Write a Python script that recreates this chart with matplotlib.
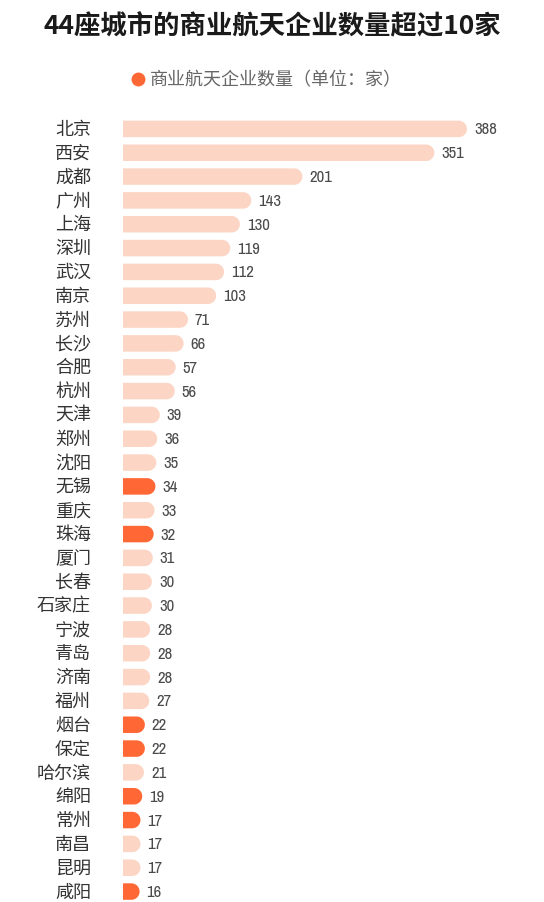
import matplotlib
matplotlib.use("Agg")
import numpy as np
import matplotlib.pyplot as plt
from matplotlib.lines import Line2D
from matplotlib.patches import Polygon
from matplotlib import font_manager

plt.rcParams['font.family'] = ['Noto Sans CJK SC', 'DejaVu Sans']

cities = ["北京", "西安", "成都", "广州", "上海", "深圳", "武汉", "南京", "苏州", "长沙",
          "合肥", "杭州", "天津", "郑州", "沈阳", "无锡", "重庆", "珠海", "厦门", "长春",
          "石家庄", "宁波", "青岛", "济南", "福州", "烟台", "保定", "哈尔滨", "绵阳", "常州",
          "南昌", "昆明", "咸阳"]
values = [388, 351, 201, 143, 130, 119, 112, 103, 71, 66,
          57, 56, 39, 36, 35, 34, 33, 32, 31, 30,
          30, 28, 28, 28, 27, 22, 22, 21, 19, 17,
          17, 17, 16]
highlight = ["无锡", "珠海", "烟台", "保定", "绵阳", "常州", "咸阳"]

title = "44座城市的商业航天企业数量超过10家"
legend_label = "商业航天企业数量（单位：家）"

LIGHT = "#FCD5C4"
ORANGE = "#FF6835"

# pick a narrow font for the numbers if one is installed
names = {f.name for f in font_manager.fontManager.ttflist}
num_kw = {}
narrow = [n for n in names if "Narrow" in n or "Condensed" in n]
if "Liberation Sans Narrow" in names:
    num_kw = dict(family=["Liberation Sans Narrow", "DejaVu Sans"])
elif narrow:
    num_kw = dict(family=[sorted(narrow)[0], "DejaVu Sans"])
else:
    num_kw = dict(family=["DejaVu Sans"], fontstretch="condensed")

W, H, DPI = 544, 903, 100
fig = plt.figure(figsize=(W / DPI, H / DPI), dpi=DPI)
fig.patch.set_facecolor("white")

ax_left, ax_right = 123, 520
ax_top, ax_bottom = 118, 903
ax = fig.add_axes([ax_left / W, 1 - ax_bottom / H, (ax_right - ax_left) / W, (ax_bottom - ax_top) / H])
px_per_unit = 0.88
x0 = -2.5 / px_per_unit
ax.set_xlim(x0, x0 + (ax_right - ax_left) / px_per_unit)
row = 23.83
ax.set_ylim((ax_bottom - 130) / row, -0.5)
ax.axis("off")

bar_px = 16.5
bar_h = bar_px / row
r_units = (bar_px / 2) / px_per_unit
t = np.linspace(0, np.pi, 40)

for i, (c, v) in enumerate(zip(cities, values)):
    col = ORANGE if c in highlight else LIGHT
    body = max(v - r_units, x0)
    xs = [x0, body] + list(body + r_units * np.sin(t)) + [body, x0]
    ys = [i - bar_h / 2, i - bar_h / 2] + list(i - bar_h / 2 * np.cos(t)) + [i + bar_h / 2, i + bar_h / 2]
    ax.add_patch(Polygon(np.column_stack([xs, ys]), closed=True, facecolor=col,
                         edgecolor="none", linewidth=0))
    ax.text(v + 7 / px_per_unit, i, str(v), va="center", ha="left",
            fontsize=12, color="#4a4a4a", **num_kw)
    ax.text(x0 - (123 - 91) / px_per_unit, i, c, ha="right", va="center", fontsize=13,
            color="#333333", fontweight="light", clip_on=False)

fig.text(0.5, 1 - 27 / H, title, ha="center", va="center", fontsize=19, fontweight="bold",
         color="#1a1a1a")
fig.add_artist(Line2D([138 / W], [1 - 80 / H], marker="o", markersize=10, color=ORANGE,
                      markeredgewidth=0, transform=fig.transFigure))
fig.text(150 / W, 1 - 80 / H, legend_label, ha="left", va="center", fontsize=13,
         color="#666666", fontweight="light")

fig.savefig("out.png", dpi=DPI, facecolor="white")
